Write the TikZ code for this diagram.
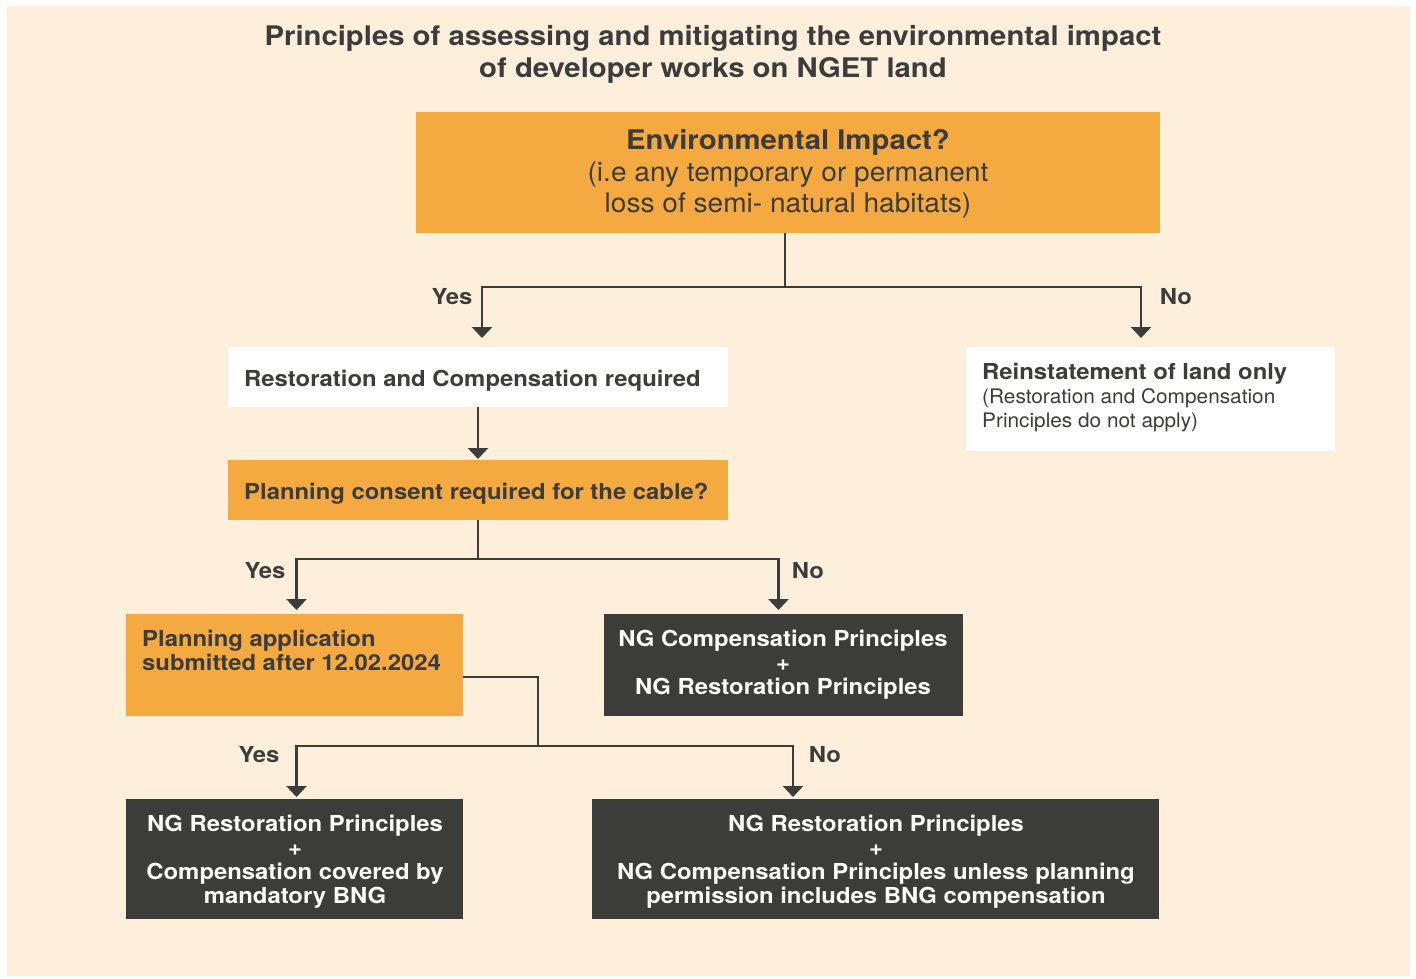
\documentclass[tikz,border=0pt]{standalone}
\usepackage{fontspec}
\setmainfont{TeX Gyre Heros}[FakeStretch=1.04]
\newfontfamily\hb{TeX Gyre Heros}[FakeStretch=1.085]
\usetikzlibrary{arrows.meta}
\definecolor{cream}{HTML}{FEEFDD}
\definecolor{orng}{HTML}{F5A941}
\definecolor{dgray}{HTML}{3C3C3B}
\begin{document}
\begin{tikzpicture}[x=1pt,y=-1pt,
  box/.style={anchor=north west, inner sep=0pt, outer sep=0pt},
  obox/.style={box, fill=orng},
  wbox/.style={box, fill=white},
  dbox/.style={box, fill=dgray},
  conn/.style={draw=dgray, line width=2.6pt},
  arr/.style={conn, -{Triangle[width=20pt,length=11pt]}},
  txt/.style={anchor=base, inner sep=0pt, text=dgray},
  ltxt/.style={anchor=base west, inner sep=0pt, text=dgray},
  bold21/.style={font=\fontsize{22}{24}\selectfont\hb\bfseries},
  lbl/.style={txt, bold21},
  wtxt/.style={anchor=base, inner sep=0pt, text=white, bold21}]
\useasboundingbox (0,0) rectangle (1416,978);
\fill[white] (0,0) rectangle (1416,978);
\fill[cream] (7,6) rectangle (1410,976);
% title
\node[txt, font=\fontsize{27}{30}\selectfont\hb\bfseries] (t1) at (713,45) {Principles of assessing and mitigating the environmental impact};
\node[txt, font=\fontsize{27}{30}\selectfont\hb\bfseries] (t2) at (713,77) {of developer works on NGET land};
% boxes
\node[obox, minimum width=744pt, minimum height=121pt] (b1) at (416,112) {};
\node[txt, font=\fontsize{27}{30}\selectfont\hb\bfseries] (b1a) at (788,149) {Environmental Impact?};
\node[txt, font=\fontsize{27}{30}\selectfont] (b1b) at (788,181) {(i.e any temporary or permanent};
\node[txt, font=\fontsize{27}{30}\selectfont] (b1c) at (788,212) {loss of semi- natural habitats)};

\node[wbox, minimum width=500pt, minimum height=60pt] (b2) at (228,347) {};
\node[ltxt, bold21] (b2a) at (244,386) {Restoration and Compensation required};

\node[wbox, minimum width=369pt, minimum height=104pt] (b3) at (966,347) {};
\node[ltxt, bold21] (b3a) at (982,379) {Reinstatement of land only};
\node[ltxt, font=\fontsize{20}{24}\selectfont] (b3b) at (982,403) {(Restoration and Compensation};
\node[ltxt, font=\fontsize{20}{24}\selectfont] (b3c) at (982,427) {Principles do not apply)};

\node[obox, minimum width=500pt, minimum height=60pt] (b4) at (228,460) {};
\node[ltxt, bold21] (b4a) at (244,499) {Planning consent required for the cable?};

\node[obox, minimum width=337pt, minimum height=102pt] (b5) at (126,614) {};
\node[ltxt, bold21] (b5a) at (142,646) {Planning application};
\node[ltxt, bold21] (b5b) at (142,670) {submitted after 12.02.2024};

\node[dbox, minimum width=359pt, minimum height=102pt] (b6) at (604,614) {};
\node[wtxt] (b6a) at (783,646) {NG Compensation Principles};
\node[wtxt] (b6b) at (783,670) {+};
\node[wtxt] (b6c) at (783,694) {NG Restoration Principles};

\node[dbox, minimum width=337pt, minimum height=120pt] (b7) at (126,799) {};
\node[wtxt] (b7a) at (295,831) {NG Restoration Principles};
\node[wtxt] (b7b) at (295,855) {+};
\node[wtxt] (b7c) at (295,879) {Compensation covered by};
\node[wtxt] (b7d) at (295,903) {mandatory BNG};

\node[dbox, minimum width=567pt, minimum height=120pt] (b8) at (592,799) {};
\node[wtxt] (b8a) at (876,831) {NG Restoration Principles};
\node[wtxt] (b8b) at (876,855) {+};
\node[wtxt] (b8c) at (876,879) {NG Compensation Principles unless planning};
\node[wtxt] (b8d) at (876,903) {permission includes BNG compensation};

% connectors
\draw[conn] ([xshift=-3pt]b1.south) -- ++(0,54) coordinate (j1);
\draw[arr] (j1) -| ([xshift=4pt,yshift=9pt]b2.north);
\draw[arr] (j1) -| ([xshift=175pt,yshift=9pt]b3.north west);
\draw[arr] (b2.south) -- ([yshift=1pt]b4.north);
\draw[conn] (b4.south) -- ++(0,39) coordinate (j2);
\draw[arr] (j2) -| ([xshift=2pt,yshift=4pt]b5.north);
\draw[arr] (j2) -| ([xshift=-5pt,yshift=4pt]b6.north);
\draw[conn] ([yshift=-12pt]b5.east) -| (538,746) coordinate (j3);
\draw[arr] (j3) -| ([xshift=2pt,yshift=2pt]b7.north);
\draw[arr] (j3) -| ([xshift=201pt,yshift=2pt]b8.north west);

% labels
\node[lbl] (y1) at (452,304) {Yes};
\node[lbl] (n1) at (1176,304) {No};
\node[lbl] (y2) at (265,578) {Yes};
\node[lbl] (n2) at (808,578) {No};
\node[lbl] (y3) at (259,762) {Yes};
\node[lbl] (n3) at (825,762) {No};
\end{tikzpicture}
\end{document}
